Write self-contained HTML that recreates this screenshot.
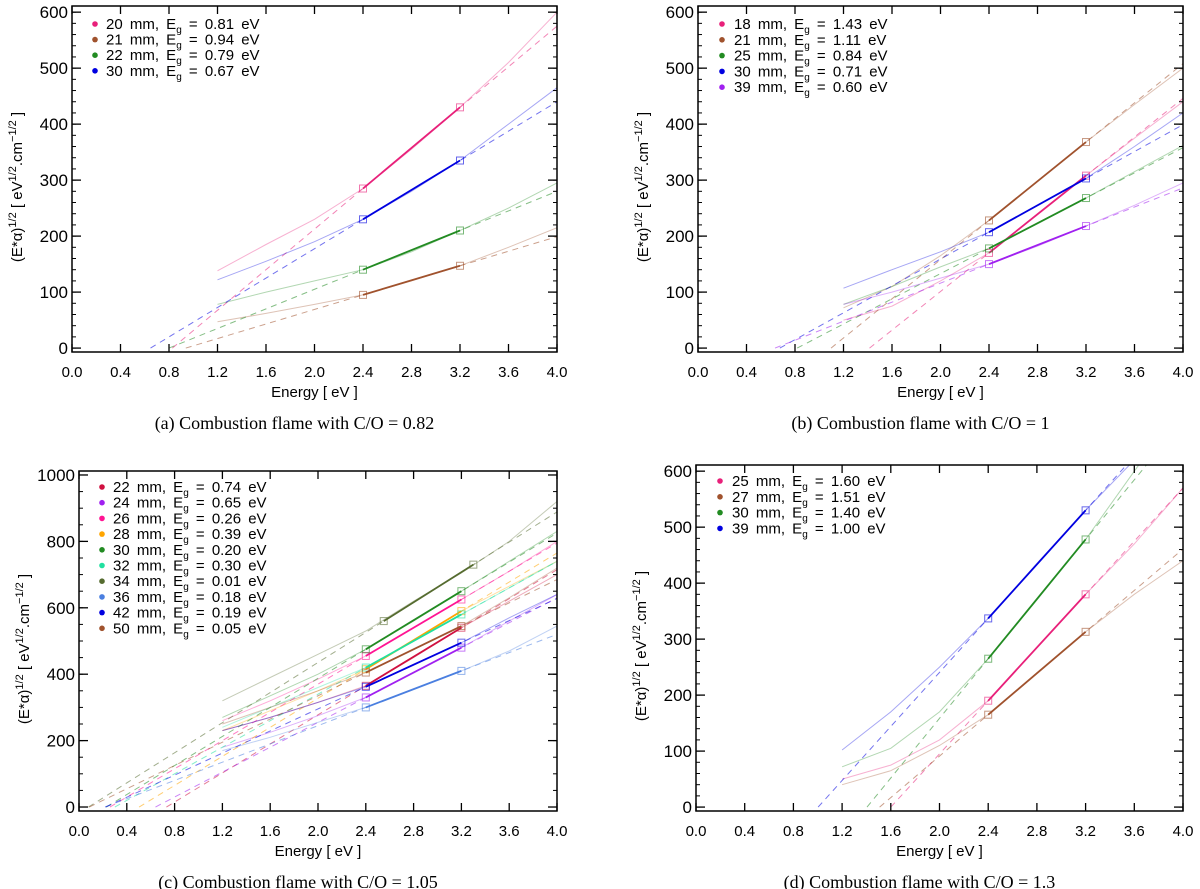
<!DOCTYPE html>
<html><head><meta charset="utf-8"><style>
html,body{margin:0;padding:0;background:#fff;}
svg{display:block;}
text{font-family:"Liberation Sans",sans-serif;}
.cap{font-family:"Liberation Serif",serif;font-size:18px;}
</style></head><body>
<svg id="fig" width="1200" height="889" viewBox="0 0 1200 889" xmlns="http://www.w3.org/2000/svg"></svg>
<script>
const energyGrid = [1.2, 1.6, 2.0, 2.4, 2.8, 3.2, 3.6, 4.0];

// Panel a
const aLabels = ["20 mm", "21 mm", "22 mm", "30 mm"];
const aEg = ["0.81", "0.94", "0.79", "0.67"];
const aColors = ["#e8207a", "#a0522d", "#228b22", "#0000e0"];
const aCurves = [
  [138, 185, 230, 285, 355, 430, 510, 600],
  [47, 62, 78, 95, 120, 147, 180, 215],
  [78, 100, 120, 140, 172, 210, 250, 295],
  [122, 155, 190, 230, 280, 335, 400, 465]
];
const aFitX1 = [2.4, 2.4, 2.4, 2.4];
const aFitX2 = [3.2, 3.2, 3.2, 3.2];
const aFitY1 = [285, 95, 140, 230];
const aFitY2 = [430, 147, 210, 335];

// Panel b
const bLabels = ["18 mm", "21 mm", "25 mm", "30 mm", "39 mm"];
const bEg = ["1.43", "1.11", "0.84", "0.71", "0.60"];
const bColors = ["#e8207a", "#a0522d", "#228b22", "#0000e0", "#a020f0"];
const bCurves = [
  [50, 75, 120, 170, 240, 308, 375, 440],
  [72, 110, 165, 228, 298, 368, 435, 500],
  [78, 110, 145, 178, 222, 268, 315, 362],
  [107, 140, 172, 207, 255, 303, 360, 420],
  [78, 100, 125, 150, 182, 218, 255, 295]
];
const bFitX1 = [2.4, 2.4, 2.4, 2.4, 2.4];
const bFitX2 = [3.2, 3.2, 3.2, 3.2, 3.2];
const bFitY1 = [170, 228, 178, 207, 150];
const bFitY2 = [308, 368, 268, 303, 218];

// Panel c
const cLabels = ["22 mm", "24 mm", "26 mm", "28 mm", "30 mm", "32 mm", "34 mm", "36 mm", "42 mm", "50 mm"];
const cEg = ["0.74", "0.65", "0.26", "0.39", "0.20", "0.30", "0.01", "0.18", "0.19", "0.05"];
const cColors = ["#d01040", "#a020f0", "#ff1493", "#ffa500", "#228b22", "#20e0a0", "#556b2f", "#4a7fe0", "#0000e0", "#a0522d"];
const cCurves = [
  [230, 270, 315, 365, 450, 540, 620, 700],
  [180, 225, 275, 330, 405, 480, 560, 640],
  [260, 320, 385, 455, 540, 625, 710, 800],
  [230, 290, 350, 415, 500, 590, 665, 740],
  [270, 335, 400, 475, 560, 650, 740, 830],
  [240, 300, 360, 420, 500, 580, 660, 740],
  [320, 390, 460, 530, 620, 705, 800, 920],
  [170, 210, 255, 300, 355, 410, 470, 545],
  [230, 270, 315, 362, 430, 495, 570, 640],
  [250, 300, 350, 405, 475, 545, 630, 720]
];
const cFitX1 = [2.4, 2.4, 2.4, 2.4, 2.4, 2.4, 2.55, 2.4, 2.4, 2.4];
const cFitX2 = [3.2, 3.2, 3.2, 3.2, 3.2, 3.2, 3.3, 3.2, 3.2, 3.2];
const cFitY1 = [365, 330, 455, 415, 475, 420, 560, 300, 362, 405];
const cFitY2 = [540, 480, 625, 590, 650, 580, 730, 410, 495, 545];

// Panel d
const dLabels = ["25 mm", "27 mm", "30 mm", "39 mm"];
const dEg = [" 1.60", " 1.51", " 1.40", " 1.00"];
const dColors = ["#e8207a", "#a0522d", "#228b22", "#0000e0"];
const dCurves = [
  [50, 75, 120, 190, 285, 380, 470, 570],
  [40, 65, 110, 165, 240, 313, 380, 440],
  [72, 105, 170, 265, 370, 478, 600, 720],
  [102, 170, 250, 337, 435, 530, 620, 720]
];
const dFitX1 = [2.4, 2.4, 2.4, 2.4];
const dFitX2 = [3.2, 3.2, 3.2, 3.2];
const dFitY1 = [190, 165, 265, 337];
const dFitY2 = [380, 313, 478, 530];

const xTicks = ["0.0", "0.4", "0.8", "1.2", "1.6", "2.0", "2.4", "2.8", "3.2", "3.6", "4.0"];
const yTicks600 = [0, 100, 200, 300, 400, 500, 600];
const yTicks1000 = [0, 200, 400, 600, 800, 1000];

const NS = "http://www.w3.org/2000/svg";
const fig = document.getElementById("fig");
function mk(tag, attrs, parent) {
  const e = document.createElementNS(NS, tag);
  for (const k in attrs) e.setAttribute(k, attrs[k]);
  (parent || fig).appendChild(e);
  return e;
}

function drawPanel(id, geo, yMin, yMax, yTicks, yMinorStep, labels, egs, colors, curves, fx1, fx2, fy1, fy2, leg, caption) {
  const g = mk("g", {});
  
  
  const X = v => geo.x0 + (v - 0) / 4.0 * (geo.x1 - geo.x0);
  const Y = v => geo.y1 - (v - yMin) / (yMax - yMin) * (geo.y1 - geo.y0);
  const clip = mk("clipPath", {id: "clip-" + id}, g);
  mk("rect", {x: geo.x0, y: geo.y0, width: geo.x1 - geo.x0, height: geo.y1 - geo.y0}, clip);
  const plot = mk("g", {"clip-path": "url(#clip-" + id + ")"}, g);

  for (let i = 0; i < labels.length; i++) {
    const col = colors[i];
    // data curve
    let d = "";
    energyGrid.forEach((e, j) => { d += (j ? "L" : "M") + X(e).toFixed(1) + " " + Y(curves[i][j]).toFixed(1); });
    const c = mk("path", {d: d, fill: "none", stroke: col, "stroke-width": 1, "stroke-opacity": 0.35}, plot);
    
    
    // linear fit extrapolation
    const m = (fy2[i] - fy1[i]) / (fx2[i] - fx1[i]);
    const x0 = fx1[i] - fy1[i] / m;
    const yEnd = fy1[i] + m * (4.0 - fx1[i]);
    const dl = mk("line", {x1: X(x0), y1: Y(0), x2: X(4.0), y2: Y(yEnd), stroke: col, "stroke-width": 1, "stroke-opacity": 0.55, "stroke-dasharray": "6 5"}, plot);
    
    
    // bold segment
    const bl = mk("line", {x1: X(fx1[i]), y1: Y(fy1[i]), x2: X(fx2[i]), y2: Y(fy2[i]), stroke: col, "stroke-width": 1.8}, plot);
    
    
    [[fx1[i], fy1[i]], [fx2[i], fy2[i]]].forEach(p => {
      const s = mk("rect", {x: X(p[0]) - 3.5, y: Y(p[1]) - 3.5, width: 7, height: 7, fill: "none", stroke: col, "stroke-width": 1, "stroke-opacity": 0.6}, plot);
      
      
    });
  }

  // frame
  const fr = mk("rect", {x: geo.x0, y: geo.y0, width: geo.x1 - geo.x0, height: geo.y1 - geo.y0, fill: "none", stroke: "#000", "stroke-width": 1.5}, g);
  
  

  // x ticks
  xTicks.forEach(t => {
    const v = parseFloat(t), x = X(v);
    mk("line", {x1: x, y1: geo.y1, x2: x, y2: geo.y1 - 8, stroke: "#000", "stroke-width": 1.3}, g);
    mk("line", {x1: x, y1: geo.y0, x2: x, y2: geo.y0 + 8, stroke: "#000", "stroke-width": 1.3}, g);
    const tl = mk("text", {x: x, y: geo.y1 + 25, "text-anchor": "middle", "font-size": 15}, g);
    tl.textContent = t;
    
    
  });
  // y minor ticks
  for (let v = 0; v <= yMax; v += yMinorStep) {
    const y = Y(v);
    mk("line", {x1: geo.x0, y1: y, x2: geo.x0 + 4, y2: y, stroke: "#000", "stroke-width": 1}, g);
    mk("line", {x1: geo.x1, y1: y, x2: geo.x1 - 4, y2: y, stroke: "#000", "stroke-width": 1}, g);
  }
  yTicks.forEach(v => {
    const y = Y(v);
    mk("line", {x1: geo.x0, y1: y, x2: geo.x0 + 9, y2: y, stroke: "#000", "stroke-width": 1.3}, g);
    mk("line", {x1: geo.x1, y1: y, x2: geo.x1 - 9, y2: y, stroke: "#000", "stroke-width": 1.3}, g);
    const tl = mk("text", {x: geo.x0 - 4, y: y + 6, "text-anchor": "end", "font-size": 17}, g);
    tl.textContent = v;
    
    
  });

  // axis titles
  const xt = mk("text", {x: (geo.x0 + geo.x1) / 2, y: geo.y1 + 45, "text-anchor": "middle", "font-size": 15}, g);
  xt.textContent = "Energy [ eV ]";
  
  
  const cy = (geo.y0 + geo.y1) / 2 + 8;
  const yt = mk("text", {x: 0, y: 0, "text-anchor": "middle", "font-size": 15, transform: "translate(" + (geo.x0 - 50) + "," + cy + ") rotate(-90)"}, g);
  yt.innerHTML = '(E*α)<tspan dy="-6" font-size="11">1/2</tspan><tspan dy="6">   [ eV</tspan><tspan dy="-6" font-size="11">1/2</tspan><tspan dy="6">.cm</tspan><tspan dy="-6" font-size="11">−1/2</tspan><tspan dy="6"> ]</tspan>';
  yt.setAttribute('xml:space', 'preserve');
  
  

  // legend
  for (let i = 0; i < labels.length; i++) {
    const ly = leg.y + i * leg.dy;
    const dot = mk("circle", {cx: leg.dotX, cy: ly - 5, r: 2.8, fill: colors[i]}, g);
    
    
    const lt = mk("text", {x: leg.textX, y: ly, "font-size": 15, "word-spacing": "3"}, g);
    lt.setAttribute('xml:space', 'preserve');
    lt.innerHTML = labels[i] + ', E<tspan dy="4" font-size="10">g</tspan><tspan dy="-4"> = ' + egs[i] + ' eV</tspan>';
    
    
  }

  // caption
  const cp = mk("text", {x: (geo.x0 + geo.x1) / 2 - 20, y: geo.y1 + 77, "text-anchor": "middle", class: "cap"}, g);
  cp.setAttribute('xml:space', 'preserve');
  cp.textContent = caption;
  
  
}

drawPanel("a", {x0: 72, x1: 557, y0: 6, y1: 352}, -7, 611, yTicks600, 20,
  aLabels, aEg, aColors, aCurves, aFitX1, aFitX2, aFitY1, aFitY2,
  {dotX: 95, textX: 106, y: 29, dy: 15.6}, "(a)  Combustion flame with C/O = 0.82");
drawPanel("b", {x0: 698, x1: 1183, y0: 6, y1: 352}, -7, 611, yTicks600, 20,
  bLabels, bEg, bColors, bCurves, bFitX1, bFitX2, bFitY1, bFitY2,
  {dotX: 722, textX: 734, y: 29, dy: 15.8}, "(b)  Combustion flame with C/O = 1");
drawPanel("c", {x0: 79, x1: 557, y0: 471, y1: 811}, -12, 1012, yTicks1000, 50,
  cLabels, cEg, cColors, cCurves, cFitX1, cFitX2, cFitY1, cFitY2,
  {dotX: 102, textX: 113, y: 492, dy: 15.7}, "(c)  Combustion flame with C/O = 1.05");
drawPanel("d", {x0: 696, x1: 1183, y0: 465, y1: 811}, -7, 611, yTicks600, 20,
  dLabels, dEg, dColors, dCurves, dFitX1, dFitX2, dFitY1, dFitY2,
  {dotX: 720, textX: 732, y: 486, dy: 15.8}, "(d)  Combustion flame with C/O = 1.3");
</script>
</body></html>
